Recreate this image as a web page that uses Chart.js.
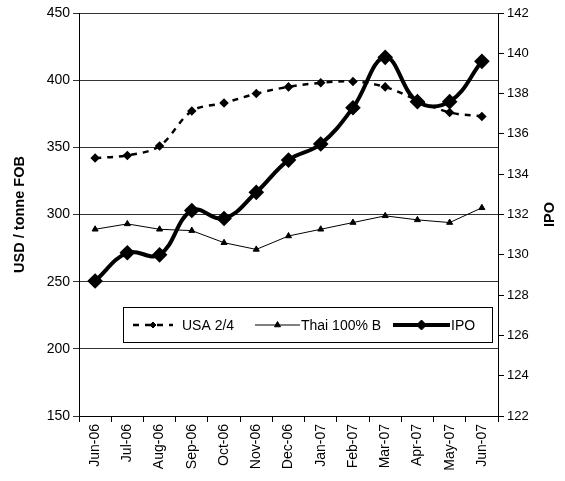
<!DOCTYPE html>
<html>
<head>
<meta charset="utf-8">
<script src="https://cdn.jsdelivr.net/npm/chart.js@4"></script>
<style>
  html, body { margin: 0; padding: 0; background: #fff; }
  #wrap { width: 565px; height: 481px; }
</style>
</head>
<body>
<div id="wrap"><canvas id="riceChart" width="565" height="481"></canvas></div>
<script>
const months = ['Jun-06', 'Jul-06', 'Aug-06', 'Sep-06', 'Oct-06', 'Nov-06', 'Dec-06',
                'Jan-07', 'Feb-07', 'Mar-07', 'Apr-07', 'May-07', 'Jun-07'];
const usaPrices = [342, 344, 351, 377, 383, 390, 395, 398, 399, 395, 385, 376, 373];
const thaiPrices = [289, 293, 289, 288, 279, 274, 284, 289, 294, 299, 296, 294, 305];
const ipoIndex = [128.7, 130.1, 130.0, 132.2, 131.8, 133.1, 134.7, 135.5, 137.3, 139.8, 137.6, 137.6, 139.6];

const leftTicks = [150, 200, 250, 300, 350, 400, 450];
const rightTicks = [122, 124, 126, 128, 130, 132, 134, 136, 138, 140, 142];

const FONT = 'Liberation Sans, Arial, sans-serif';

// draws the axis titles and the boxed legend that sits inside the plot
const overlay = {
    id: 'overlay',
    afterDraw(chart) {
        const ctx = chart.ctx;
        const area = chart.chartArea;
        const sets = chart.data.datasets;
        ctx.save();
        ctx.fillStyle = '#000';
        ctx.font = 'bold 14.5px ' + FONT;
        ctx.textAlign = 'center';
        ctx.textBaseline = 'middle';
        const midY = (area.top + area.bottom) / 2;
        [[20, 'USD / tonne FOB'], [550, 'IPO']].forEach(([x, t]) => {
            ctx.save();
            ctx.translate(x, midY);
            ctx.rotate(-Math.PI / 2);
            ctx.fillText(t, 0, 0);
            ctx.restore();
        });

        // legend
        const box = { x: 123.5, y: 307.5, w: 369, h: 35 };
        ctx.fillStyle = '#fff';
        ctx.fillRect(box.x, box.y, box.w, box.h);
        ctx.strokeStyle = '#000';
        ctx.lineWidth = 1;
        ctx.strokeRect(box.x, box.y, box.w, box.h);
        const cy = box.y + box.h / 2;
        const items = [[133, 173, 182], [255, 300, 301], [393, 450, 451]];
        ctx.font = '14px ' + FONT;
        ctx.textAlign = 'left';
        items.forEach(([x0, x1, tx], i) => {
            const ds = sets[i];
            ctx.save();
            ctx.strokeStyle = ds.borderColor;
            ctx.lineWidth = ds.borderWidth;
            ctx.setLineDash(ds.borderDash || []);
            ctx.beginPath();
            ctx.moveTo(x0, cy);
            ctx.lineTo(x1, cy);
            ctx.stroke();
            ctx.restore();
            ctx.fillStyle = '#000';
            ctx.strokeStyle = '#000';
            Chart.helpers.drawPoint(ctx, {
                pointStyle: ds.pointStyle, radius: ds.pointRadius, rotation: 0,
                borderWidth: 1
            }, (x0 + x1) / 2, cy);
            ctx.fillText(ds.label, tx, cy + 1);
        });
        ctx.restore();
    }
};

const ctx = document.getElementById('riceChart').getContext('2d');
const riceChart = new Chart(ctx, {
    type: 'line',
    data: {
        labels: months,
        datasets: [{
            label: 'USA 2/4',
            data: usaPrices,
            yAxisID: 'y',
            borderColor: '#000',
            backgroundColor: '#000',
            borderWidth: 2.5,
            borderDash: [6, 6],
            tension: 0.35,
            pointStyle: 'rectRot',
            pointRadius: 3,
            pointBackgroundColor: '#000',
            pointBorderColor: '#000'
        }, {
            label: 'Thai 100% B',
            data: thaiPrices,
            yAxisID: 'y',
            borderColor: '#000',
            backgroundColor: '#000',
            borderWidth: 1,
            tension: 0,
            pointStyle: 'triangle',
            pointRadius: 3.5,
            pointBackgroundColor: '#000',
            pointBorderColor: '#000'
        }, {
            label: 'IPO',
            data: ipoIndex,
            yAxisID: 'y1',
            borderColor: '#000',
            backgroundColor: '#000',
            borderWidth: 4,
            tension: 0.4,
            pointStyle: 'rectRot',
            pointRadius: 5,
            pointBackgroundColor: '#000',
            pointBorderColor: '#000'
        }]
    },
    options: {
        responsive: false,
        animation: false,
        layout: { padding: { top: 13, left: 0, right: 0, bottom: 0 } },
        plugins: {
            legend: { display: false },
            tooltip: { enabled: false }
        },
        scales: {
            x: {
                offset: true,
                grid: { offset: true, drawOnChartArea: false, color: '#000', tickLength: 6 },
                border: { color: '#000' },
                ticks: { color: '#000', font: { family: FONT, size: 14 }, minRotation: 90, maxRotation: 90, padding: 2 },
                afterFit: s => { s.height = 65; }
            },
            y: {
                position: 'left',
                min: 150,
                max: 450,
                afterBuildTicks: s => { s.ticks = leftTicks.map(v => ({ value: v })); },
                grid: { color: '#333', tickLength: 6 },
                border: { color: '#000' },
                ticks: { color: '#000', font: { family: FONT, size: 14 }, padding: 3 },
                afterFit: s => { s.width = 79; }
            },
            y1: {
                position: 'right',
                min: 122,
                max: 142,
                afterBuildTicks: s => { s.ticks = rightTicks.map(v => ({ value: v })); },
                grid: { drawOnChartArea: false, color: '#000', tickLength: 6 },
                border: { color: '#000' },
                ticks: { color: '#000', font: { family: FONT, size: 13 }, padding: 3 },
                afterFit: s => { s.width = 67; }
            }
        }
    },
    plugins: [overlay]
});
</script>
</body>
</html>
